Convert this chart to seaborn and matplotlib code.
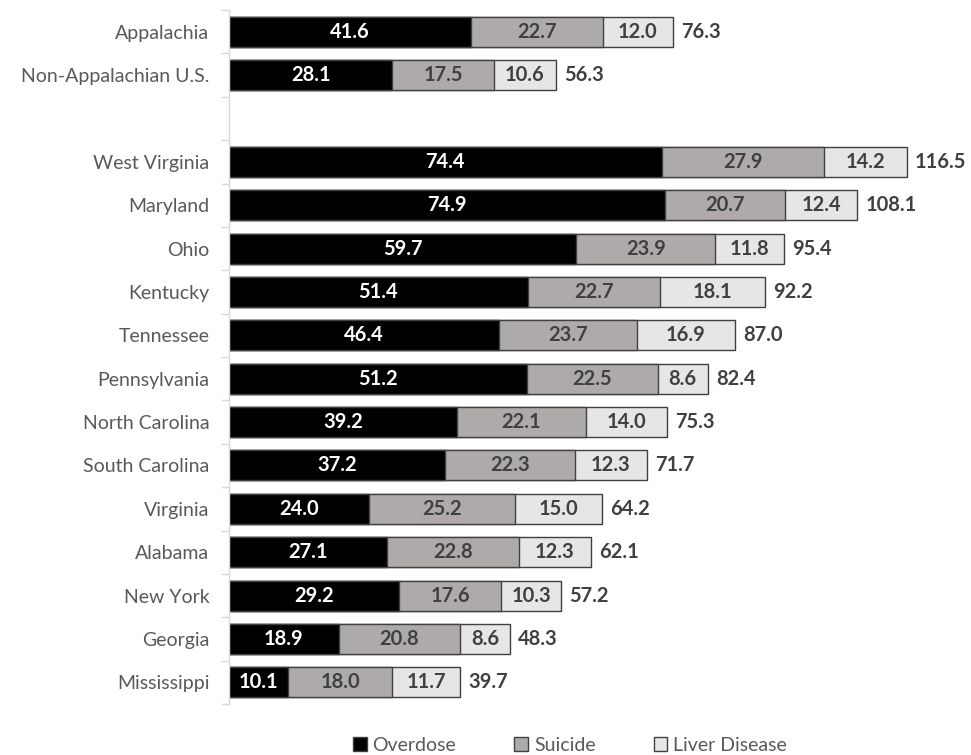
import numpy as np
import pandas as pd
import matplotlib
matplotlib.use("Agg")
import matplotlib.pyplot as plt
import seaborn as sns
from matplotlib.patches import Patch

categories = ["Appalachia", "Non-Appalachian U.S.", " ", "West Virginia", "Maryland", "Ohio",
              "Kentucky", "Tennessee", "Pennsylvania", "North Carolina", "South Carolina",
              "Virginia", "Alabama", "New York", "Georgia", "Mississippi"]
overdose = [41.6, 28.1, np.nan, 74.4, 74.9, 59.7, 51.4, 46.4, 51.2, 39.2, 37.2, 24.0, 27.1, 29.2, 18.9, 10.1]
suicide = [22.7, 17.5, np.nan, 27.9, 20.7, 23.9, 22.7, 23.7, 22.5, 22.1, 22.3, 25.2, 22.8, 17.6, 20.8, 18.0]
liver = [12.0, 10.6, np.nan, 14.2, 12.4, 11.8, 18.1, 16.9, 8.6, 14.0, 12.3, 15.0, 12.3, 10.3, 8.6, 11.7]
totals = [76.3, 56.3, np.nan, 116.5, 108.1, 95.4, 92.2, 87.0, 82.4, 75.3, 71.7, 64.2, 62.1, 57.2, 48.3, 39.7]
series_names = ["Overdose", "Suicide", "Liver Disease"]

sns.set_style("white")
plt.rcParams['font.family'] = ['Lato', 'DejaVu Sans']

df = pd.DataFrame({"cat": categories, "od": overdose, "su": suicide, "lv": liver, "tot": totals})
df["c1"] = df["od"]
df["c2"] = df["od"] + df["su"]
df["c3"] = df["od"] + df["su"] + df["lv"]

c_od, c_su, c_lv = "#000000", "#AEAAAA", "#E7E6E6"
edge = "#404040"

fig = plt.figure(figsize=(9.71, 7.55), dpi=100)
ax = fig.add_axes([229/971, 1 - 704/755, 727/971, (704 - 10)/755])

kw = dict(y="cat", order=categories, orient="h", saturation=1, width=0.69,
          edgecolor=edge, linewidth=1, ax=ax, errorbar=None)
sns.barplot(data=df.dropna(), x="c3", color=c_lv, **kw)
sns.barplot(data=df.dropna(), x="c2", color=c_su, **kw)
sns.barplot(data=df.dropna(), x="c1", color=c_od, **kw)

ax.set_xlim(0, 125)
ax.set_ylim(len(categories) - 0.5, -0.5)
ax.set_xlabel("")
ax.set_ylabel("")
ax.set_xticks([])

fs = 14.5
for i, row in df.iterrows():
    if np.isnan(row["od"]):
        continue
    ax.text(row["od"] / 2, i, f"{row['od']:.1f}", ha="center", va="center",
            color="white", fontsize=fs, fontweight="bold")
    ax.text(row["od"] + row["su"] / 2, i, f"{row['su']:.1f}", ha="center", va="center",
            color=edge, fontsize=fs, fontweight="bold")
    ax.text(row["c2"] + row["lv"] / 2, i, f"{row['lv']:.1f}", ha="center", va="center",
            color=edge, fontsize=fs, fontweight="bold")
    ax.text(row["c3"] + 1.4, i, f"{row['tot']:.1f}", ha="left", va="center",
            color=edge, fontsize=fs, fontweight="bold")

for s in ["top", "right", "bottom"]:
    ax.spines[s].set_visible(False)
ax.spines["left"].set_color("#D9D9D9")
ax.spines["left"].set_linewidth(1)

ax.set_yticks(range(len(categories)))
ax.set_yticklabels(categories, fontsize=14, color="#595959")
ax.tick_params(axis="y", which="major", left=True, length=0, pad=14)
ax.set_yticks(np.arange(-0.5, len(categories), 1.0), minor=True)
ax.tick_params(axis="y", which="minor", left=True, length=6, color="#D9D9D9", width=1, direction="out")

handles = [Patch(facecolor=c, edgecolor=edge, linewidth=1) for c in (c_od, c_su, c_lv)]
fig.legend(handles, series_names, loc="lower center", bbox_to_anchor=(570/971, -0.022),
           ncol=3, frameon=False, fontsize=14, handlelength=0.7, handleheight=0.7,
           handletextpad=0.3, columnspacing=3.0, labelcolor="#595959")

fig.savefig("out.png", dpi=100)
